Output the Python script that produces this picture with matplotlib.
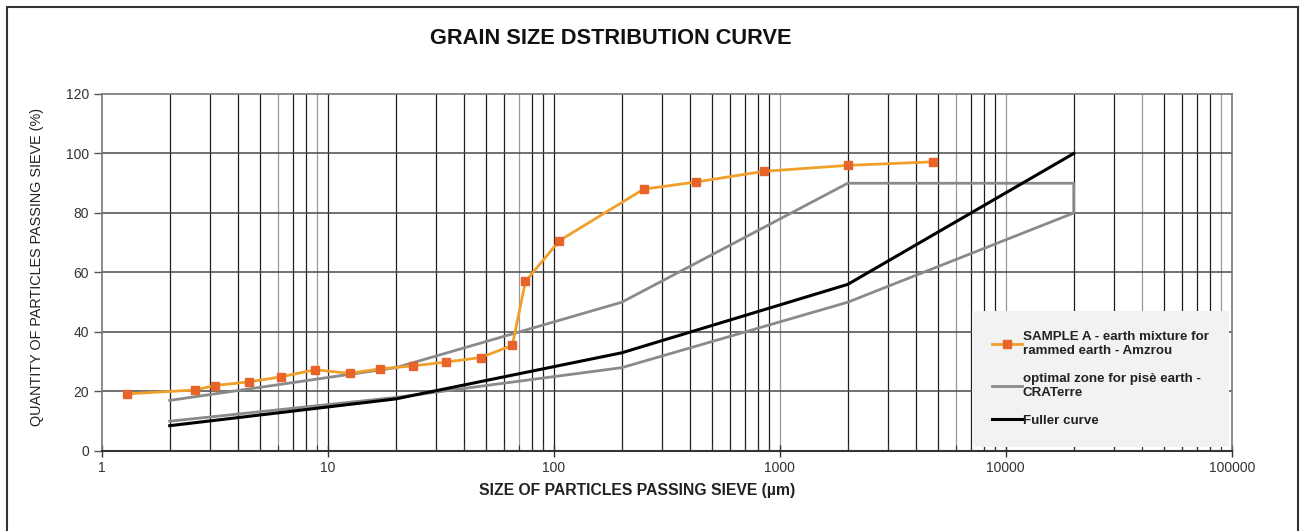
import matplotlib.pyplot as plt
from matplotlib.patches import Rectangle
import numpy as np

plt.rcParams['font.family'] = ['Liberation Sans', 'DejaVu Sans']

# sample A (sieve + hydrometer)
sample_d = [1.3, 2.6, 3.16, 4.47, 6.2, 8.8, 12.5, 17, 23.8, 33.5, 47.5, 65.6, 75,
            106, 250, 425, 850, 2000, 4750]
sample_p = [19.2, 20.5, 22, 23.2, 24.9, 27.3, 26.1, 27.6, 28.6, 29.9, 31.4, 35.5, 57,
            70.7, 88, 90.4, 94, 96, 97.2]

# CRATerre optimal zone: upper limit then lower limit (closed at 20 mm)
zone_d = [2, 20, 200, 2000, 20000, 20000, 2000, 200, 20, 2]
zone_p = [17, 28, 50, 90, 90, 80, 50, 28, 18, 10]

fuller_d = [2, 20, 200, 2000, 20000]
fuller_p = [8.5, 17.5, 33, 56, 100]

yticks = [0, 20, 40, 60, 80, 100, 120]
xticks = [1, 10, 100, 1000, 10000, 100000]

fig = plt.figure(figsize=(13.02, 5.31), dpi=100)
ax = fig.add_axes([0.0781, 0.1507, 0.8679, 0.6723])

ax.set_xscale('log')
ax.set_xlim(1, 100000)
ax.set_ylim(0, 120)

# vertical grid lines at every 1..9 x decade, a few look lighter in the original
light = [6, 9, 70, 1000, 6000, 10000, 40000, 90000]
for dec in [1, 10, 100, 1000, 10000]:
    for k in range(1, 10):
        v = dec * k
        if v == 1:
            continue
        c = '#9a9a9a' if v in light else '#1e1e1e'
        ax.axvline(v, color=c, lw=0.9, zorder=1)
for v in yticks[1:-1]:
    ax.axhline(v, color='#4a4a4a', lw=1.1, zorder=1)

ax.plot(zone_d, zone_p, color='#8a8a8a', lw=2, zorder=3,
        label='optimal zone for pisè earth -\nCRATerre')
ax.plot(fuller_d, fuller_p, color='#000000', lw=2.2, zorder=4, label='Fuller curve')
ax.plot(sample_d, sample_p, color='#f0a028', lw=2, marker='s', ms=5.5,
        mfc='#e8642a', mec='#e8642a', zorder=5,
        label='SAMPLE A - earth mixture for\nrammed earth - Amzrou')

ax.set_yticks(yticks)
ax.set_xticks(xticks)
ax.set_xticklabels([str(v) for v in xticks])
ax.tick_params(axis='y', direction='out', length=6, width=1, color='#555555',
               labelsize=10, labelcolor='#333333', pad=3)
ax.tick_params(axis='x', which='major', direction='inout', length=8, width=1,
               color='#333333', labelsize=10, labelcolor='#333333', pad=3)
ax.tick_params(axis='x', which='minor', direction='in', length=4, width=0.8,
               color='#333333')

for s in ['top', 'left', 'right']:
    ax.spines[s].set_color('#777777')
    ax.spines[s].set_linewidth(1.2)
ax.spines['bottom'].set_color('#333333')
ax.spines['bottom'].set_linewidth(1.5)

fig.text(0.489, 0.077, 'SIZE OF PARTICLES PASSING SIEVE (µm)', fontsize=11.3,
         fontweight='bold', color='#222222', ha='center', va='center')
fig.text(0.0285, 0.497, 'QUANTITY OF PARTICLES PASSING SIEVE (%)', fontsize=10.4,
         rotation=90, color='#222222', ha='center', va='center')

fig.text(0.469, 0.928, 'GRAIN SIZE DSTRIBUTION CURVE', fontsize=15.7,
         fontweight='bold', ha='center', va='center', color='#111111')

h, l = ax.get_legend_handles_labels()
order = [2, 0, 1]
leg = ax.legend([h[i] for i in order], [l[i] for i in order],
                loc='lower right', bbox_to_anchor=(0.9976, 0.011),
                prop={'size': 9.6, 'weight': 'bold'}, frameon=True,
                fancybox=False, edgecolor='none', facecolor='#f2f2f2',
                framealpha=1, handlelength=2.3, handletextpad=0.05,
                labelspacing=1.2, borderpad=1.5, borderaxespad=0)
leg.set_zorder(6)
for t in leg.get_texts():
    t.set_color('#222222')

fig.patches.append(Rectangle((0.0054, -0.02), 0.9918, 1.007, transform=fig.transFigure,
                             fill=False, edgecolor='#333333', lw=1.5))

fig.savefig('out.png', dpi=100)
